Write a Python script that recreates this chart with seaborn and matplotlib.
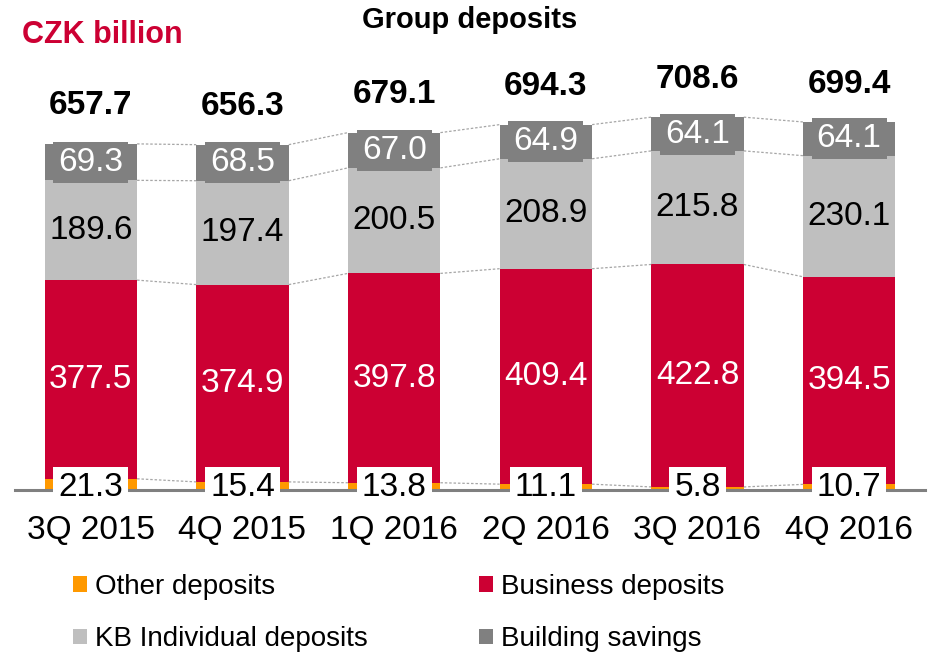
import pandas as pd
import matplotlib
matplotlib.use("Agg")
import matplotlib.pyplot as plt
import seaborn as sns
from matplotlib.patches import Patch

# DATA (CZK billion)
quarters = ["3Q 2015", "4Q 2015", "1Q 2016", "2Q 2016", "3Q 2016", "4Q 2016"]
other = [21.3, 15.4, 13.8, 11.1, 5.8, 10.7]
business = [377.5, 374.9, 397.8, 409.4, 422.8, 394.5]
individual = [189.6, 197.4, 200.5, 208.9, 215.8, 230.1]
building = [69.3, 68.5, 67.0, 64.9, 64.1, 64.1]
totals = [657.7, 656.3, 679.1, 694.3, 708.6, 699.4]

series_names = ["Other deposits", "Business deposits", "KB Individual deposits", "Building savings"]
colors = ["#FF9900", "#CC0033", "#BFBFBF", "#808080"]

sns.set_style("white")
plt.rcParams["font.family"] = ["Liberation Sans", "DejaVu Sans"]
plt.rcParams["text.color"] = "black"
plt.rcParams["xtick.labelcolor"] = "black"

df = pd.DataFrame({"quarter": quarters, "other": other, "business": business,
                   "individual": individual, "building": building})
df["c1"] = df["other"]
df["c2"] = df["c1"] + df["business"]
df["c3"] = df["c2"] + df["individual"]
df["c4"] = df["c3"] + df["building"]

fig = plt.figure(figsize=(9.29, 6.53), dpi=100)
ax = fig.add_axes([15 / 929, (653 - 490) / 653, 910 / 929, 421 / 653])

bar_w = 0.61
# stacked bars drawn as overlapping cumulative bars, tallest first
for col, c in zip(["c4", "c3", "c2", "c1"], colors[::-1]):
    sns.barplot(data=df, x="quarter", y=col, color=c, saturation=1,
                width=bar_w, ax=ax, linewidth=0, zorder=1)

# dashed connectors between bars
for col in ["c1", "c2", "c3", "c4"]:
    vals = df[col].tolist()
    for i in range(len(vals) - 1):
        ax.plot([i + bar_w / 2, i + 1 - bar_w / 2], [vals[i], vals[i + 1]],
                color="#A6A6A6", lw=0.9, ls=(0, (2, 1.5)), zorder=2)

fs = 24
for i in range(len(quarters)):
    # other deposits: white box sitting on the axis
    ax.text(i, 5, f"{other[i]:.1f}", ha="center", va="center", fontsize=fs,
            color="black", zorder=4,
            bbox=dict(boxstyle="square,pad=0.15", fc="white", ec="none"))
    ax.text(i, df["c1"][i] + business[i] / 2, f"{business[i]:.1f}", ha="center",
            va="center", fontsize=fs, color="white", zorder=4)
    ax.text(i, df["c2"][i] + individual[i] / 2, f"{individual[i]:.1f}", ha="center",
            va="center", fontsize=fs, color="black", zorder=4)
    ax.text(i, df["c3"][i] + building[i] / 2, f"{building[i]:.1f}", ha="center",
            va="center", fontsize=fs, color="white", zorder=4,
            bbox=dict(boxstyle="square,pad=0.15", fc="#808080", ec="none"))
    ax.text(i, totals[i] + 72, f"{totals[i]:.1f}", ha="center", va="center",
            fontsize=fs, fontweight="bold", color="black")

ax.set_xlim(-0.5, len(quarters) - 0.5)
ax.set_ylim(0, 800)
ax.set_xlabel("")
ax.set_ylabel("")
ax.set_yticks([])
for s in ["top", "left", "right"]:
    ax.spines[s].set_visible(False)
ax.spines["bottom"].set_color("#808080")
ax.spines["bottom"].set_linewidth(2.2)
ax.spines["bottom"].set_zorder(3)
ax.set_xticks([i - 0.5 for i in range(len(quarters) + 1)], minor=True)
ax.tick_params(axis="x", which="minor", length=8, width=2, color="#808080", direction="out")
ax.tick_params(axis="x", which="major", length=0, labelsize=fs, pad=18,
               labelcolor="black")

fig.text(0.506, 1 - 20 / 653, "Group deposits", ha="center", va="center",
         fontsize=21, fontweight="bold", color="black")
fig.text(22 / 929, 1 - 35 / 653, "CZK billion", ha="left", va="center",
         fontsize=22, fontweight="bold", color="#CC0033")

handles = [Patch(facecolor=c, edgecolor="none") for c in colors]
order = [0, 2, 1, 3]
fig.legend([handles[k] for k in order], [series_names[k] for k in order],
           ncol=2, loc="upper left", bbox_to_anchor=(73 / 929, 1 - 574 / 653),
           frameon=False, fontsize=20, handlelength=0.5, handleheight=0.5,
           handletextpad=0.3, columnspacing=4.0, labelspacing=0.95,
           borderpad=0, borderaxespad=0)

fig.savefig("out.png", dpi=100)
